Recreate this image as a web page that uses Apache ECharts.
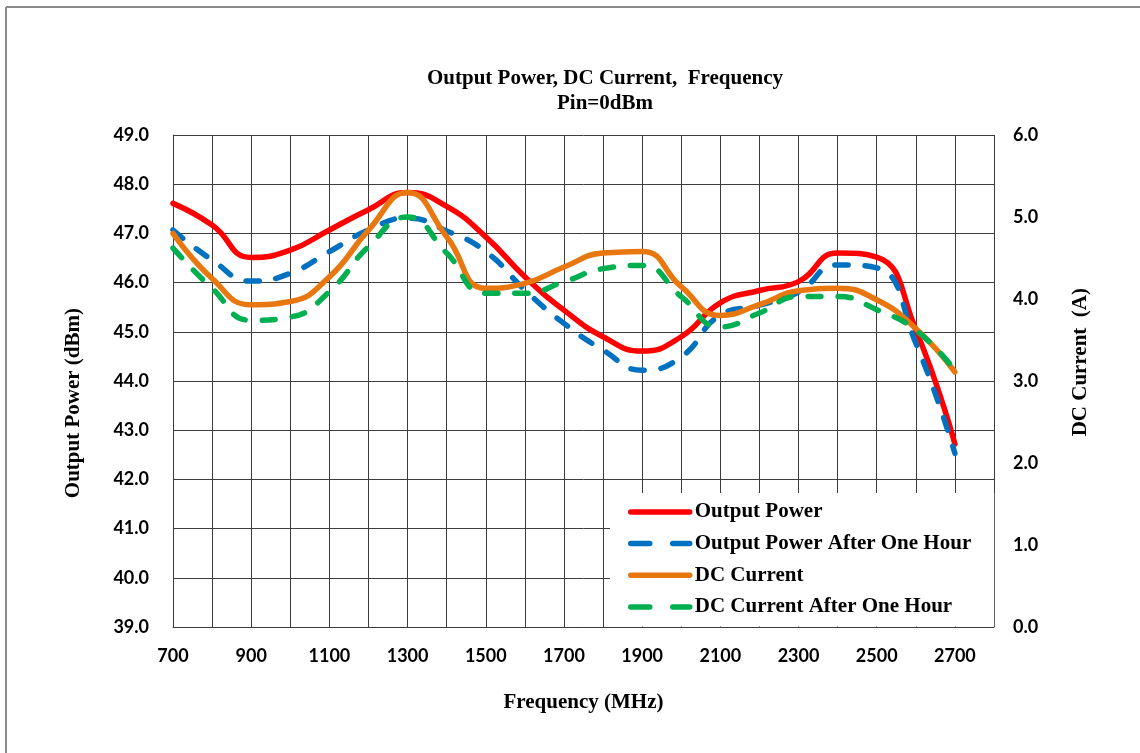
<!DOCTYPE html>
<html>
<head>
<meta charset="utf-8">
<script src="https://cdn.jsdelivr.net/npm/echarts@6/dist/echarts.min.js"></script>
<style>
  html, body { margin: 0; padding: 0; background: #fff; }
  #chart { width: 1140px; height: 753px; }
</style>
</head>
<body>
<div id="chart"></div>
<script>
// Frequency (MHz)
const frequency = [700, 800, 900, 1000, 1100, 1200, 1300, 1400, 1500, 1600, 1700,
                   1800, 1900, 2000, 2100, 2200, 2300, 2400, 2500, 2600, 2700];
// Output Power (dBm)
const outputPower = [47.61, 47.17, 46.51, 46.66, 47.07, 47.48, 47.83, 47.55, 46.93, 46.12, 45.44,
                     44.90, 44.61, 44.90, 45.59, 45.84, 46.02, 46.60, 46.52, 45.04, 42.72];
// Output Power After One Hour (dBm)
const outputPowerHour = [47.07, 46.46, 46.03, 46.19, 46.63, 47.07, 47.31, 47.05, 46.63, 45.85, 45.17,
                         44.63, 44.22, 44.49, 45.34, 45.54, 45.81, 46.36, 46.30, 44.77, 42.53];
// DC Current (A)
const dcCurrent = [4.80, 4.25, 3.93, 3.97, 4.27, 4.84, 5.30, 4.76, 4.13, 4.19, 4.39,
                   4.56, 4.58, 4.15, 3.80, 3.93, 4.10, 4.13, 3.99, 3.64, 3.11];
// DC Current After One Hour (A)
const dcCurrentHour = [4.62, 4.13, 3.74, 3.78, 4.09, 4.64, 5.00, 4.56, 4.07, 4.07, 4.21,
                       4.37, 4.41, 4.03, 3.66, 3.83, 4.03, 4.03, 3.87, 3.62, 3.13];

const seriesNames = ['Output Power', 'Output Power After One Hour', 'DC Current', 'DC Current After One Hour'];

function pairs(vals) { return frequency.map((f, i) => [f, vals[i]]); }

const chart = echarts.init(document.getElementById('chart'));
const serif = "'Liberation Serif', 'Times New Roman', serif";
const sans = "Lato, 'Open Sans', 'Liberation Sans', sans-serif";
const gridColor = '#3c3c3c';
const dash = [13, 17];
const legendDash = [19, 23];

const option = {
  backgroundColor: '#fff',
  animation: false,
  title: {
    text: 'Output Power, DC Current,  Frequency\nPin=0dBm',
    left: 600, top: 61, textAlign: 'center',
    textStyle: { fontFamily: serif, fontWeight: 'bold', fontSize: 21, color: '#000', lineHeight: 25 }
  },
  grid: { left: 173, right: 146, top: 135, bottom: 126, containLabel: false },
  xAxis: {
    type: 'value', min: 700, max: 2800, interval: 100,
    name: 'Frequency (MHz)', nameLocation: 'middle', nameGap: 65,
    nameTextStyle: { fontFamily: serif, fontWeight: 'bold', fontSize: 21, color: '#000' },
    axisLine: { show: true, lineStyle: { color: gridColor, width: 1 } },
    axisTick: { show: false },
    splitLine: { show: true, lineStyle: { color: gridColor, width: 1 } },
    axisLabel: {
      margin: 20, fontFamily: sans, fontWeight: 'bold', fontSize: 18, color: '#000',
      formatter: v => ((v - 700) % 200 === 0 && v <= 2700) ? String(v) : ''
    }
  },
  yAxis: [
    {
      type: 'value', min: 39, max: 49, interval: 1,
      axisLine: { show: true, lineStyle: { color: gridColor, width: 1 } },
      axisTick: { show: false },
      splitLine: { show: true, lineStyle: { color: gridColor, width: 1 } },
      axisLabel: { margin: 24, fontFamily: sans, fontWeight: 'bold', fontSize: 18, color: '#000',
        formatter: v => v.toFixed(1) }
    },
    {
      type: 'value', min: 0, max: 6, interval: 1, position: 'right',
      axisLine: { show: false },
      axisTick: { show: false },
      splitLine: { show: false },
      axisLabel: { margin: 19, fontFamily: sans, fontWeight: 'bold', fontSize: 18, color: '#000',
        formatter: v => v.toFixed(1) }
    }
  ],
  legend: {
    orient: 'vertical', left: 610, top: 493,
    data: [
      { name: seriesNames[0] },
      { name: seriesNames[1], lineStyle: { type: legendDash } },
      { name: seriesNames[2] },
      { name: seriesNames[3], lineStyle: { type: legendDash } }
    ],
    itemWidth: 59, itemHeight: 22, itemGap: 10.7,
    itemStyle: { opacity: 0 },
    lineStyle: { width: 5.5, cap: 'round' },
    backgroundColor: '#fff',
    padding: [8.4, 23, 9, 18],
    textStyle: { fontFamily: serif, fontWeight: 'bold', fontSize: 21, color: '#000' }
  },
  graphic: [
    { type: 'line', shape: { x1: 6, y1: 7, x2: 1140, y2: 7 }, style: { stroke: '#8a8a8a', lineWidth: 2 } },
    { type: 'line', shape: { x1: 6, y1: 7, x2: 6, y2: 753 }, style: { stroke: '#8a8a8a', lineWidth: 2 } },
    { type: 'text', left: 63, top: 308, rotation: Math.PI / 2,
      style: { text: 'Output Power (dBm)', fontFamily: serif, fontWeight: 'bold', fontSize: 21, fill: '#000' } },
    { type: 'text', left: 1070, top: 288, rotation: Math.PI / 2,
      style: { text: 'DC Current  (A)', fontFamily: serif, fontWeight: 'bold', fontSize: 21, fill: '#000' } }
  ],
  series: [
    { name: seriesNames[0], type: 'line', yAxisIndex: 0, data: pairs(outputPower), smooth: 0.5,
      showSymbol: false, symbol: 'none', color: '#ff0000',
      lineStyle: { color: '#ff0000', width: 5.5, cap: 'round', join: 'round' } },
    { name: seriesNames[1], type: 'line', yAxisIndex: 0, data: pairs(outputPowerHour), smooth: 0.5,
      showSymbol: false, symbol: 'none', color: '#0070c0',
      lineStyle: { color: '#0070c0', width: 5.5, type: dash, cap: 'round', join: 'round' } },
    { name: seriesNames[2], type: 'line', yAxisIndex: 1, data: pairs(dcCurrent), smooth: 0.5,
      showSymbol: false, symbol: 'none', color: '#e8770f',
      lineStyle: { color: '#e8770f', width: 5.5, cap: 'round', join: 'round' } },
    { name: seriesNames[3], type: 'line', yAxisIndex: 1, data: pairs(dcCurrentHour), smooth: 0.5,
      showSymbol: false, symbol: 'none', color: '#00b050',
      lineStyle: { color: '#00b050', width: 5.5, type: dash, cap: 'round', join: 'round' } }
  ]
};
chart.setOption(option);
</script>
</body>
</html>
